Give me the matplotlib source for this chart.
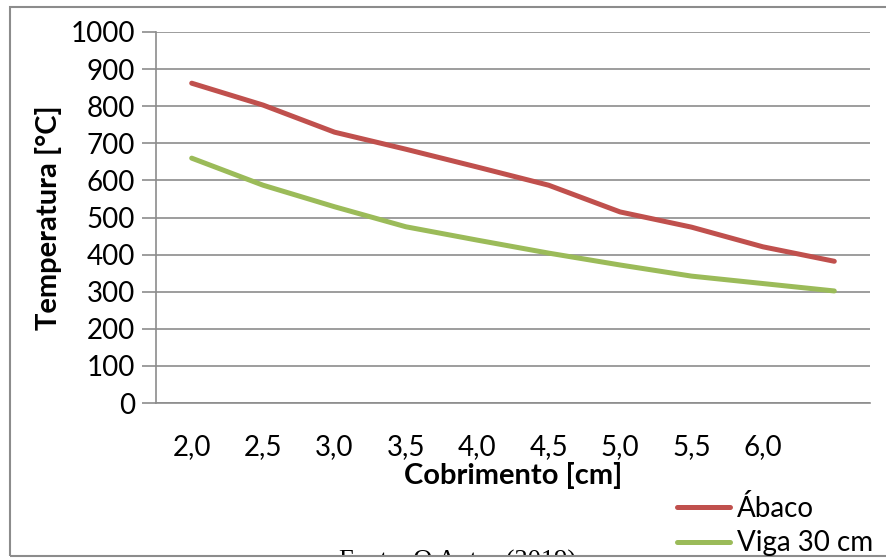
import matplotlib
matplotlib.use('Agg')
import matplotlib.pyplot as plt
from matplotlib.patches import Rectangle

# dados
cobrimento = ['2,0', '2,5', '3,0', '3,5', '4,0', '4,5', '5,0', '5,5', '6,0', '']
abaco = [862, 803, 730, 684, 636, 587, 515, 474, 421, 382]
viga_30 = [660, 587, 529, 475, 439, 404, 372, 342, 322, 302]
y_ticks = [0, 100, 200, 300, 400, 500, 600, 700, 800, 900, 1000]

plt.rcParams['font.family'] = ['Lato', 'DejaVu Sans']
grid_cor = '#8c8c8c'

fig = plt.figure(figsize=(8.87, 5.58), dpi=100)
ax = fig.add_axes([156/887, 1-403/558, (870-156)/887, (403-32)/558])

x = list(range(len(cobrimento)))
ax.plot(x, abaco, color='#C0504D', lw=3.6, solid_capstyle='round', label='Ábaco')
ax.plot(x, viga_30, color='#9BBB59', lw=3.6, solid_capstyle='round', label='Viga 30 cm')

ax.set_xlim(-0.5, len(cobrimento) - 0.5)
ax.set_ylim(0, 1000)
ax.set_yticks(y_ticks)
ax.set_xticks(x)
ax.set_xticklabels(cobrimento)
ax.tick_params(axis='y', length=10, color=grid_cor, width=1.2, labelsize=20, pad=5)
ax.tick_params(axis='x', length=0, labelsize=20, pad=22)
ax.grid(axis='y', color=grid_cor, lw=1.2)
ax.set_axisbelow(True)
for s in ['top', 'right']:
    ax.spines[s].set_visible(False)
for s in ['left', 'bottom']:
    ax.spines[s].set_color(grid_cor)
    ax.spines[s].set_linewidth(1.2)

ax.set_ylabel('Temperatura [°C]', fontsize=21, fontweight='bold', labelpad=6)
ax.set_xlabel('Cobrimento [cm]', fontsize=21, fontweight='bold', labelpad=2)

fig.legend(loc='upper left', bbox_to_anchor=(677/887, 1-495/558), frameon=False,
           fontsize=20, handlelength=1.9, handletextpad=0.25, labelspacing=0.3,
           borderaxespad=0, borderpad=0)

fig.text(458/887, 1-550/558, 'Fonte: O Autor (2019)', family='Liberation Serif',
         fontsize=19, ha='center', va='top')

# moldura externa
fig.patches.append(Rectangle((10/887, 1-556/558), 1.0, (556-7)/558, transform=fig.transFigure,
                             fill=False, edgecolor='#8c8c8c', lw=1.5, zorder=5))
fig.patches.append(Rectangle((0, 0), 1.0, 1-556.5/558, transform=fig.transFigure,
                             facecolor='white', edgecolor='none', zorder=4))

fig.savefig('out.png', dpi=100)
